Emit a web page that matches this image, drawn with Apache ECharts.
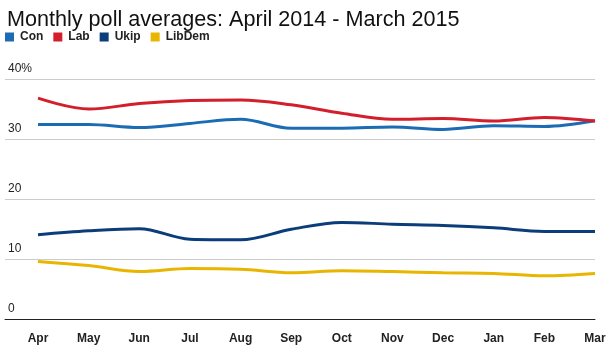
<!DOCTYPE html>
<html><head><meta charset="utf-8">
<script src="https://cdn.jsdelivr.net/npm/echarts@6/dist/echarts.min.js"></script>
<style>html,body{margin:0;padding:0;background:#fff}#c{width:610px;height:353px}</style>
</head><body><div id="c"></div>
<script>
var months = ['Apr','May','Jun','Jul','Aug','Sep','Oct','Nov','Dec','Jan','Feb','Mar'];
var con    = [32.4, 32.4, 31.9, 32.6, 33.3, 31.8, 31.8, 32.0, 31.6, 32.2, 32.1, 33.05];
var lab    = [36.8, 35.0, 35.9, 36.4, 36.5, 35.7, 34.3, 33.3, 33.4, 33.0, 33.6, 33.0];
var ukip   = [14.05, 14.7, 15.05, 13.3, 13.2, 14.95, 16.1, 15.8, 15.6, 15.2, 14.6, 14.6];
var libdem = [9.6, 8.9, 7.9, 8.4, 8.3, 7.7, 8.05, 7.9, 7.7, 7.6, 7.2, 7.6];
var yTicks = [0, 10, 20, 30, 40];
var colors = {Con:'#1b6cb4', Lab:'#d21f2b', Ukip:'#0b3d7a', LibDem:'#e8b500'};

var chart = echarts.init(document.getElementById('c'));
var font = "'Liberation Sans', Arial, Helvetica, sans-serif";
function mk(name, data){
  return {name:name, type:'line', data:data, smooth:0.35, symbol:'none',
    xAxisIndex:0, yAxisIndex:0,
    lineStyle:{width:3, color:colors[name]}, itemStyle:{color:colors[name]}};
}
chart.setOption({
  animation:false,
  title:{text:'Monthly poll averages: April 2014 - March 2015', left:2, top:4,
    textStyle:{fontFamily:font, fontSize:21.6, fontWeight:'normal', color:'#111'}},
  legend:{left:5, top:31, padding:0, icon:'rect', itemWidth:9, itemHeight:9, itemGap:10,
    textStyle:{fontFamily:font, fontSize:12, fontWeight:'bold', color:'#222', padding:[0,0,0,1]},
    data:['Con','Lab','Ukip','LibDem']},
  grid:[
    {left:38, right:15, top:79, bottom:34},
    {left:5, right:15, top:79, bottom:34}
  ],
  xAxis:[
    {type:'category', gridIndex:0, data:months, boundaryGap:false,
      axisLine:{show:false}, axisTick:{show:false}, splitLine:{show:false},
      axisLabel:{margin:14, fontFamily:font, fontSize:12, fontWeight:'bold', color:'#222'}},
    {type:'value', gridIndex:1, min:0, max:1, show:true,
      axisLine:{show:true, lineStyle:{color:'#222', width:1}}, axisTick:{show:false},
      axisLabel:{show:false}, splitLine:{show:false}}
  ],
  yAxis:[
    {type:'value', gridIndex:0, min:0, max:40, interval:10, show:false},
    {type:'value', gridIndex:1, min:yTicks[0], max:yTicks[yTicks.length-1], interval:10,
      axisLine:{show:false}, axisTick:{show:false},
      splitLine:{show:true, lineStyle:{color:'#cccccc', width:1}},
      axisLabel:{inside:true, margin:3, verticalAlign:'bottom', padding:[0,0,4,0],
        fontFamily:font, fontSize:12, color:'#222',
        formatter:function(v){return v===40 ? '40%' : String(v);}}}
  ],
  series:[mk('Con',con), mk('Lab',lab), mk('Ukip',ukip), mk('LibDem',libdem)]
});
</script></body></html>
